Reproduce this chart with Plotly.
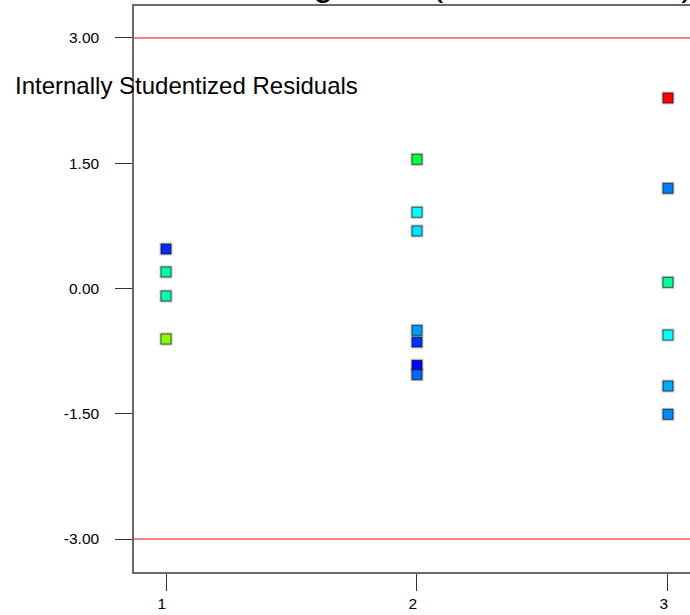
import plotly.graph_objects as go

# ---- data ----
training_time = [1, 1, 1, 1,
                 2, 2, 2, 2, 2, 2, 2,
                 3, 3, 3, 3, 3, 3]
residuals = [0.473, 0.198, -0.090, -0.605,
             1.547, 0.913, 0.689, -0.501, -0.641, -0.920, -1.032,
             2.281, 1.200, 0.074, -0.557, -1.168, -1.507]
point_colors = ["#0A2BFF", "#00FFA0", "#00FFB0", "#88FF00",
                "#00FF44", "#00FFFF", "#00E0FF", "#0099FF", "#0033FF", "#0000FF", "#0066FF",
                "#FF0000", "#0080FF", "#00FF99", "#00FFFF", "#00AAFF", "#0088FF"]
x_tickvals = [1, 2, 3]
x_ticktext = ["1\u00a0\u00a0", "2\u00a0\u00a0", "3\u00a0\u00a0"]
y_tickvals = [-3.0, -1.5, 0.0, 1.5, 3.0]
y_ticktext = ["-3.00", "-1.50", "0.00", "1.50", "3.00"]
limits = [3.0, -3.0]
title_text = "Residuals vs. Training Time (Harvest Period)"
y_label = "Internally Studentized Residuals"

FONT = "Liberation Sans, Arial, sans-serif"

fig = go.Figure()

# soft shadow under markers
fig.add_trace(go.Scatter(
    x=training_time, y=residuals, mode="markers",
    marker=dict(symbol="square", size=13, color="rgba(150,150,150,0.55)", line=dict(width=0)),
    hoverinfo="skip", showlegend=False))

fig.add_trace(go.Scatter(
    x=training_time, y=residuals, mode="markers",
    marker=dict(symbol="square", size=10, color=point_colors,
                line=dict(width=1, color="rgba(0,0,0,0.6)")),
    showlegend=False))

for v in limits:
    fig.add_shape(type="line", xref="paper", x0=0, x1=1, yref="y", y0=v, y1=v,
                  line=dict(color="#FF0000", width=1), layer="above")

fig.add_annotation(text=title_text, xref="paper", yref="paper",
                   x=(-21 - 134) / 556, y=1.0411, xanchor="left", yanchor="middle",
                   showarrow=False, font=dict(family=FONT, size=36, color="black"))

fig.add_annotation(text=y_label, xref="paper", yref="paper",
                   x=(13 - 134) / 556, y=0.8604, xanchor="left", yanchor="middle",
                   showarrow=False, font=dict(family=FONT, size=24, color="black"))

fig.update_layout(
    width=690, height=615,
    margin=dict(l=134, r=0, t=6, b=43),
    paper_bgcolor="white", plot_bgcolor="white",
    font=dict(family=FONT, color="black"),
    showlegend=False,
    xaxis=dict(range=[0.8725, 3.0877], tickvals=x_tickvals, ticktext=x_ticktext,
               showgrid=False, zeroline=False, showline=True, linecolor="#6a6a6a",
               linewidth=1.5, mirror=True, ticks="outside", ticklen=17, tickwidth=1,
               tickcolor="#333333", tickfont=dict(size=15.5, color="black"),
               ticklabelstandoff=0),
    yaxis=dict(range=[-3.395, 3.383], tickvals=y_tickvals, ticktext=y_ticktext,
               showgrid=False, zeroline=False, showline=True, linecolor="#6a6a6a",
               linewidth=1.5, mirror=False, ticks="outside", ticklen=17, tickwidth=1,
               tickcolor="#333333", tickfont=dict(size=15.5, color="black"),
               ticklabelstandoff=13),
)

fig.write_html("out.html",
               config={"displayModeBar": False},
               post_script="document.body.style.margin='0px';document.body.style.overflow='hidden';")
